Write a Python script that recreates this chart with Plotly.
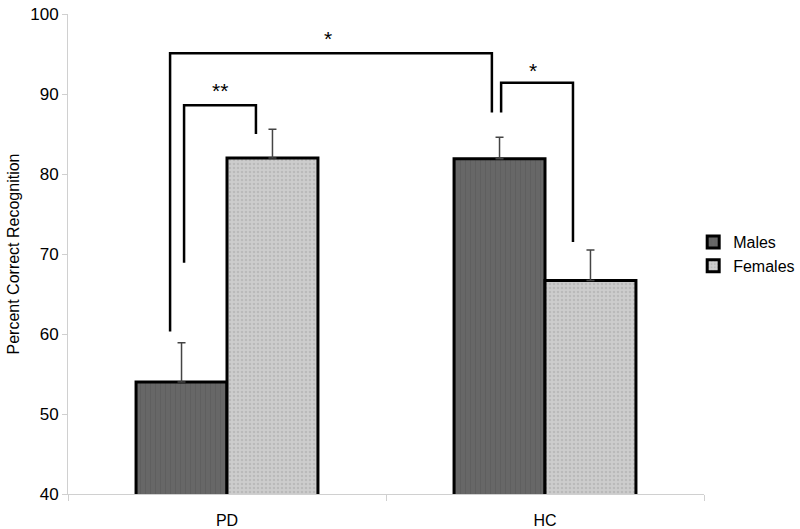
import plotly.graph_objects as go

# Datos
groups = ["PD", "HC"]
males = [54.0, 81.9]
females = [82.0, 66.7]
males_err = [4.9, 2.7]
females_err = [3.6, 3.8]

# Corchetes de significación: (x izq, x der, y techo, y fin izq, y fin der, etiqueta, x etiqueta, y etiqueta)
brackets = [
    (-0.179, 0.833, 95.1, 60.3, 87.7, "*", 0.318, 96.9),
    (-0.135, 0.091, 88.6, 68.9, 85.0, "**", -0.022, 90.4),
    (0.862, 1.088, 91.4, 87.7, 71.5, "*", 0.962, 92.9),
]

FONT = "Liberation Sans, Arial, sans-serif"

fig = go.Figure()

fig.add_trace(go.Bar(
    name="Males",
    x=groups,
    y=males,
    marker=dict(
        color="#636363",
        line=dict(color="black", width=3),
        pattern=dict(shape="|", fgcolor="#585858", bgcolor="#676767", size=5, solidity=0.2),
    ),
    error_y=dict(type="data", array=males_err, arrayminus=[0, 0], symmetric=False,
                 color="#444444", thickness=1.5, width=4),
))

fig.add_trace(go.Bar(
    name="Females",
    x=groups,
    y=females,
    marker=dict(
        color="#c6c6c6",
        line=dict(color="black", width=3),
        pattern=dict(shape=".", fgcolor="#a8a8a8", bgcolor="#cdcdcd", size=4, solidity=0.35),
    ),
    error_y=dict(type="data", array=females_err, arrayminus=[0, 0], symmetric=False,
                 color="#444444", thickness=1.5, width=4),
))

# Dibujar corchetes y asteriscos
for x0, x1, ytop, yl, yr, label, xl, yl_txt in brackets:
    path = f"M {x0},{yl} L {x0},{ytop} L {x1},{ytop} L {x1},{yr}"
    fig.add_shape(type="path", path=path, xref="x", yref="y",
                  line=dict(color="black", width=2.5))
    fig.add_annotation(x=xl, y=yl_txt, xref="x", yref="y", text=label, showarrow=False,
                       font=dict(family=FONT, size=21, color="black"))

fig.update_layout(
    width=800,
    height=529,
    barmode="group",
    bargap=0.428,
    bargroupgap=0,
    plot_bgcolor="white",
    paper_bgcolor="white",
    font=dict(family=FONT, size=16, color="black"),
    margin=dict(l=68, r=96, t=14, b=35, autoexpand=False),
    legend=dict(x=0.983, y=0.5, xanchor="left", yanchor="middle",
                font=dict(family=FONT, size=16), tracegroupgap=0, itemwidth=30),
    showlegend=True,
)

fig.update_yaxes(
    range=[40, 100],
    dtick=10,
    showgrid=False,
    showline=True,
    linecolor="#d0d0d0",
    linewidth=1,
    ticks="outside",
    ticklen=5,
    tickcolor="#d0d0d0",
    tickfont=dict(family=FONT, size=17),
    title=dict(text="Percent Correct Recognition", font=dict(family=FONT, size=16), standoff=6),
    zeroline=False,
    automargin=False,
)

fig.update_xaxes(
    showgrid=False,
    showline=True,
    linecolor="#d0d0d0",
    linewidth=1,
    ticks="outside",
    ticklen=6,
    tickcolor="#d0d0d0",
    tickson="boundaries",
    ticklabelstandoff=12,
    tickfont=dict(family=FONT, size=16),
    automargin=False,
)

# Quitar el margen por defecto del <body> para que el gráfico empiece en (0, 0)
fig.write_html("out.html", config={"displayModeBar": False},
               post_script="document.body.style.margin = '0px';")
